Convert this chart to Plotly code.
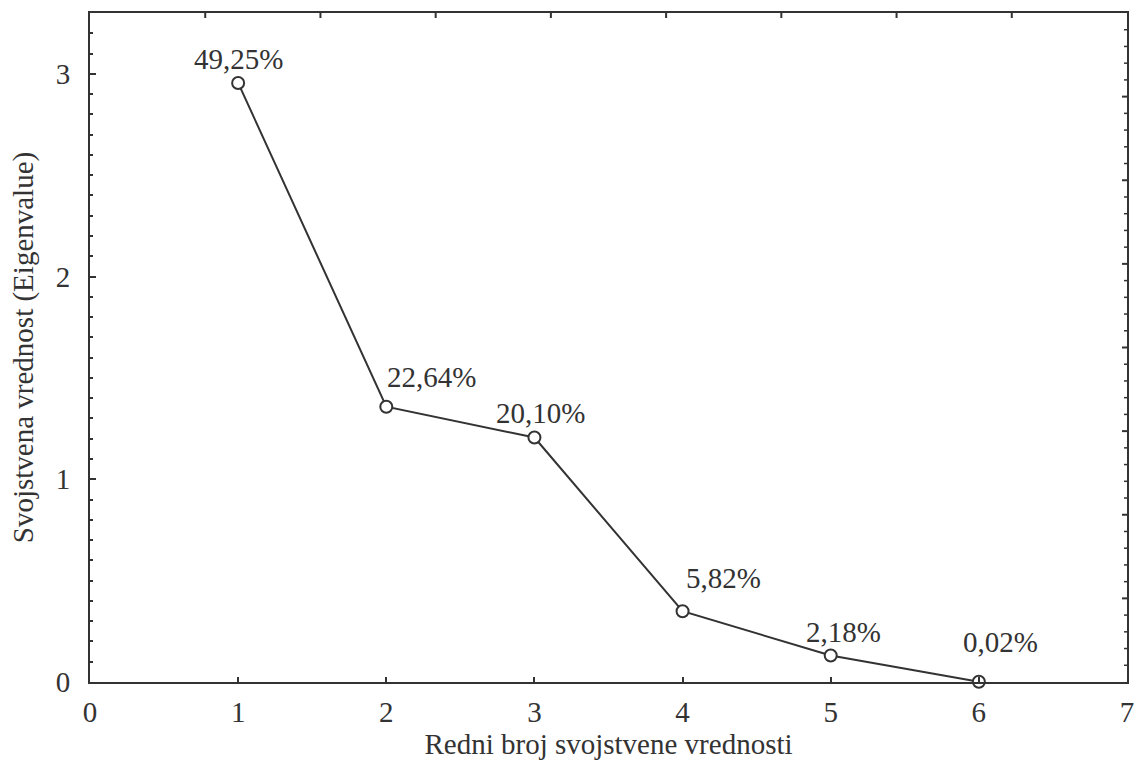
import plotly.graph_objects as go

components = [1, 2, 3, 4, 5, 6]
eigenvalues = [2.955, 1.358, 1.206, 0.349, 0.131, 0.0012]
pct_labels = ["49,25%", "22,64%", "20,10%", "5,82%", "2,18%", "0,02%"]
x_ticks = [0, 1, 2, 3, 4, 5, 6, 7]
y_ticks = [0, 1, 2, 3]

FONT = "Liberation Serif"
INK = "#333333"
FS = 29

fig = go.Figure()
fig.add_trace(go.Scatter(
    x=components, y=eigenvalues, mode="lines+markers",
    line=dict(color=INK, width=2),
    marker=dict(symbol="circle", size=12, color="white", line=dict(color=INK, width=2)),
    showlegend=False, cliponaxis=False,
))

# label pixel offsets (style only)
shifts = [(0, 24), (45, 30), (6, 25), (41, 33), (13, 23), (22, 40)]
for xv, yv, t, (dx, dy) in zip(components, eigenvalues, pct_labels, shifts):
    fig.add_annotation(x=xv, y=yv, text=t, showarrow=False, xshift=dx, yshift=dy,
                       xref="x", yref="y", font=dict(family=FONT, size=FS, color=INK))

# frame decoration: inward ticks on the top (9 divisions) and right (8 major, 40 minor) borders
TOP_DIV = 9
RIGHT_DIV = 40
for i in range(1, TOP_DIV):
    fig.add_shape(type="line", xref="x domain", yref="y domain", x0=i / TOP_DIV, x1=i / TOP_DIV,
                  ysizemode="pixel", yanchor=1, y0=0, y1=-5,
                  line=dict(color=INK, width=2), layer="above")
for j in range(1, RIGHT_DIV):
    ln = 5 if j % 5 == 0 else 3
    fig.add_shape(type="line", xref="x domain", yref="y domain", y0=j / RIGHT_DIV, y1=j / RIGHT_DIV,
                  xsizemode="pixel", xanchor=1, x0=0, x1=-ln,
                  line=dict(color=INK, width=2 if j % 5 == 0 else 1.5), layer="above")

fig.update_layout(
    width=1135, height=760,
    margin=dict(l=90, r=8, t=13, b=78, autoexpand=False),
    plot_bgcolor="white", paper_bgcolor="white",
    font=dict(family=FONT, size=FS, color=INK),
    xaxis=dict(range=[0, 7], tickmode="array", tickvals=x_ticks, ticktext=[str(v) for v in x_ticks],
               ticks="inside", ticklen=5, tickwidth=2, tickcolor=INK,
               showline=True, mirror=True, linecolor=INK, linewidth=2, showgrid=False, zeroline=False,
               title=dict(text="Redni broj svojstvene vrednosti", standoff=2,
                          font=dict(family=FONT, size=FS, color=INK)),
               ticklabelstandoff=3, automargin=False),
    yaxis=dict(range=[0, 3.3], tickmode="array", tickvals=y_ticks, ticktext=[str(v) for v in y_ticks],
               ticks="inside", ticklen=6, tickwidth=2, tickcolor=INK,
               minor=dict(dtick=0.1, ticks="inside", ticklen=3, tickwidth=1.5, tickcolor=INK),
               showline=True, mirror=True, linecolor=INK, linewidth=2, showgrid=False, zeroline=False,
               title=dict(text="Svojstvena vrednost (Eigenvalue)", standoff=14,
                          font=dict(family=FONT, size=FS, color=INK)),
               ticklabelstandoff=12, automargin=False),
)

fig.write_html("out.html")
